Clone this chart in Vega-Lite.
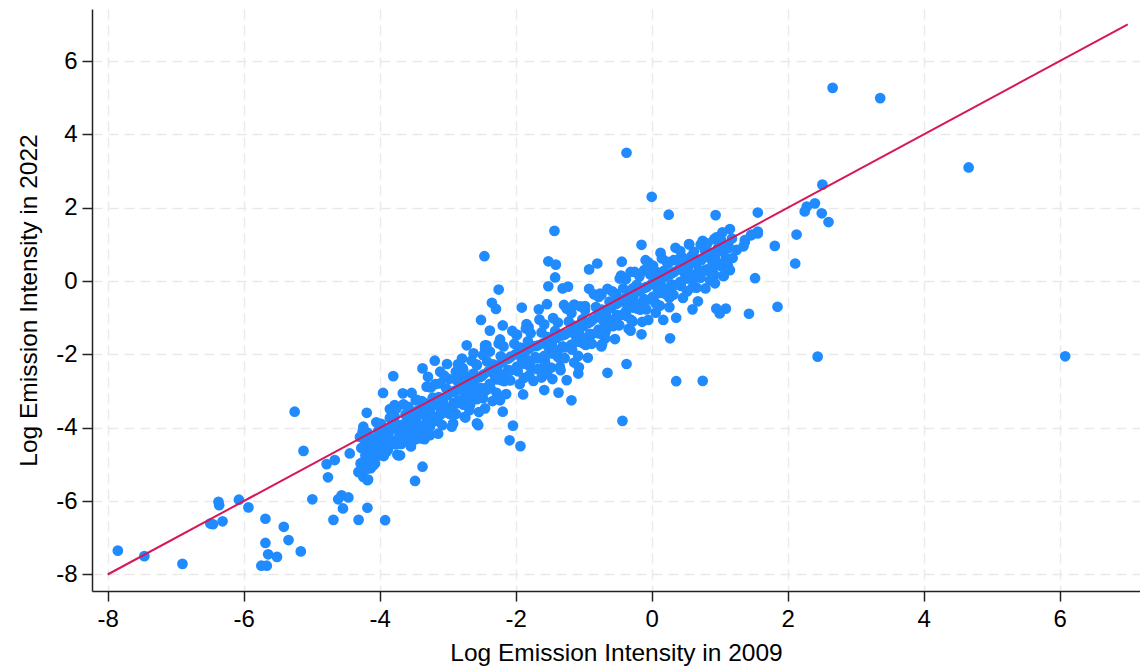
{
  "$schema": "https://vega.github.io/schema/vega-lite/v6.json",
  "width": 1048,
  "height": 582,
  "autosize": {"type": "none"},
  "padding": {"left": 92, "top": 9, "right": 0, "bottom": 80},
  "background": "white",
  "config": {
    "view": {"stroke": null},
    "axis": {
      "grid": true,
      "gridColor": "#e9e9e9",
      "gridDash": [10, 6],
      "gridWidth": 1.5,
      "domainColor": "#222222",
      "domainWidth": 1.5,
      "tickColor": "#222222",
      "tickSize": 10,
      "tickWidth": 1.5,
      "labelFont": "Liberation Sans",
      "labelFontSize": 24,
      "labelColor": "#000000",
      "titleFont": "Liberation Sans",
      "titleFontSize": 24.5,
      "titleFontWeight": "normal",
      "titleColor": "#000000"
    }
  },
  "datasets": {
    "pts": [
      {"x":-7.85,"y":-7.35},{"x":-7.46,"y":-7.50},{"x":-6.90,"y":-7.71},{"x":-6.45,"y":-6.63},{"x":-6.49,"y":-6.61},{"x":-6.37,"y":-6.02},{"x":-6.36,"y":-6.11},{"x":-6.31,"y":-6.55},{"x":-6.07,"y":-5.96},{"x":-5.93,"y":-6.17},{"x":-5.68,"y":-6.48},{"x":-5.68,"y":-7.14},{"x":-5.64,"y":-7.45},{"x":-5.74,"y":-7.76},{"x":-5.66,"y":-7.76},{"x":-5.51,"y":-7.52},{"x":-5.41,"y":-6.70},{"x":-5.34,"y":-7.06},{"x":-5.16,"y":-7.37},{"x":-5.25,"y":-3.56},{"x":-5.12,"y":-4.63},{"x":-4.99,"y":-5.95},{"x":-4.78,"y":-4.99},{"x":-4.66,"y":-4.88},{"x":-4.76,"y":-5.35},{"x":-4.68,"y":-6.51},{"x":-4.61,"y":-5.95},{"x":-4.56,"y":-5.84},{"x":-4.46,"y":-5.90},{"x":-4.54,"y":-6.20},{"x":-4.44,"y":-4.70},{"x":-4.31,"y":-6.51},{"x":-4.31,"y":-5.21},{"x":-4.29,"y":-4.25},{"x":-4.24,"y":-3.97},{"x":-4.19,"y":-3.59},{"x":-4.18,"y":-6.18},{"x":-4.18,"y":-5.43},{"x":-4.18,"y":-4.72},{"x":-4.24,"y":-4.93},{"x":-3.92,"y":-6.52},{"x":-3.95,"y":-3.05},{"x":-3.80,"y":-2.59},{"x":-4.07,"y":-4.97},{"x":-4.13,"y":-5.10},
      {"x":-2.72,"y":-1.75},{"x":-2.45,"y":-1.75},{"x":-3.19,"y":-2.17},{"x":-3.01,"y":-2.26},{"x":-3.37,"y":-2.38},{"x":-3.11,"y":-2.47},{"x":-3.29,"y":-2.61},{"x":-3.66,"y":-3.06},{"x":-3.53,"y":-3.05},{"x":-3.31,"y":-2.88},{"x":-3.47,"y":-3.25},{"x":-3.78,"y":-3.38},{"x":-3.85,"y":-3.49},{"x":-3.37,"y":-5.06},{"x":-3.48,"y":-5.45},{"x":-4.19,"y":-4.97},{"x":-4.17,"y":-5.11},{"x":-4.31,"y":-5.20},{"x":-4.24,"y":-5.34},{"x":-4.17,"y":-5.41},{"x":-4.09,"y":-5.02},{"x":-4.20,"y":-4.61},{"x":-4.17,"y":-4.75},{"x":-4.01,"y":-4.43},{"x":-3.95,"y":-4.16},{"x":-3.90,"y":-4.29},{"x":-3.70,"y":-4.75},{"x":-3.73,"y":-4.43},{"x":-3.55,"y":-4.43},{"x":-3.40,"y":-4.29},{"x":-3.26,"y":-4.20},{"x":-3.26,"y":-3.97},{"x":-3.43,"y":-4.06},{"x":-3.63,"y":-4.06},{"x":-3.87,"y":-4.06},{"x":-4.00,"y":-4.02},{"x":-3.79,"y":-3.84},{"x":-3.60,"y":-3.70},{"x":-3.48,"y":-3.56},{"x":-3.26,"y":-3.56},{"x":-3.11,"y":-3.65},{"x":-3.04,"y":-3.43},{"x":-2.92,"y":-3.88},{"x":-2.75,"y":-3.70},{"x":-2.57,"y":-3.88},{"x":-2.45,"y":-3.47},{"x":-2.67,"y":-3.38},{"x":-2.84,"y":-3.25},{"x":-3.16,"y":-3.25},{"x":-3.31,"y":-3.34},{"x":-2.99,"y":-3.02},{"x":-2.79,"y":-2.97},{"x":-2.57,"y":-2.97},{"x":-2.43,"y":-2.97},{"x":-3.11,"y":-2.79},{"x":-2.87,"y":-2.70},{"x":-2.67,"y":-2.61},{"x":-2.77,"y":-2.43},{"x":-2.57,"y":-2.29},{"x":-2.48,"y":-2.02},{"x":-2.79,"y":-2.11},{"x":-2.62,"y":-1.97},{"x":-2.88,"y":-2.47},{"x":-3.75,"y":-3.47},{"x":-2.55,"y":-3.93},{"x":-4.19,"y":-4.88},{"x":-4.07,"y":-4.70},{"x":-4.00,"y":-4.75},{"x":-3.90,"y":-4.65},{"x":-3.73,"y":-4.75},{"x":-4.04,"y":-4.43},{"x":-3.95,"y":-4.34},{"x":-3.85,"y":-4.43},
      {"x":-0.43,"y":-3.81},{"x":-0.37,"y":-2.26},{"x":-0.65,"y":-2.50},{"x":-0.73,"y":-1.72},{"x":-1.18,"y":-3.25},{"x":-1.37,"y":-3.04},{"x":-1.58,"y":-2.97},{"x":-1.25,"y":-2.70},{"x":-1.46,"y":-2.67},{"x":-1.62,"y":-2.63},{"x":-1.08,"y":-2.52},{"x":-1.07,"y":-2.35},{"x":-1.35,"y":-2.34},{"x":-1.59,"y":-2.35},{"x":-1.80,"y":-2.57},{"x":-1.89,"y":-3.09},{"x":-2.04,"y":-3.94},{"x":-2.09,"y":-4.34},{"x":-1.93,"y":-4.50},{"x":-2.19,"y":-3.56},{"x":-2.23,"y":-3.25},{"x":-2.43,"y":-1.75},{"x":-0.30,"y":-1.06},{"x":-0.37,"y":-0.61},{"x":-0.49,"y":-0.47},{"x":0.36,"y":-2.73},{"x":0.75,"y":-2.72},{"x":-2.23,"y":-1.59},{"x":-0.68,"y":-1.38},{"x":0.27,"y":-1.56},
      {"x":-0.37,"y":3.50},{"x":0.00,"y":2.30},{"x":0.25,"y":1.81},{"x":0.94,"y":1.80},{"x":-1.43,"y":1.37},{"x":-2.46,"y":0.68},{"x":-0.15,"y":0.99},{"x":0.13,"y":0.77},{"x":-0.44,"y":0.53},{"x":-0.80,"y":0.48},{"x":-0.92,"y":0.32},{"x":-1.52,"y":0.54},{"x":-1.41,"y":0.45},{"x":-1.42,"y":0.10},{"x":-1.52,"y":-0.14},{"x":-1.31,"y":-0.20},{"x":-1.23,"y":-0.15},{"x":-0.92,"y":-0.21},{"x":-2.25,"y":-0.23},{"x":-2.35,"y":-0.59},{"x":-2.29,"y":-0.76},{"x":-2.51,"y":-1.06},{"x":-2.38,"y":-1.35},{"x":-2.19,"y":-1.21},{"x":-1.91,"y":-0.72},{"x":-1.66,"y":-0.77},{"x":-1.54,"y":-0.63},{"x":-1.29,"y":-0.65},{"x":-1.14,"y":-0.64},{"x":-0.98,"y":-0.68},{"x":-0.76,"y":-0.34},{"x":-0.74,"y":-0.37},{"x":-0.53,"y":-0.35},{"x":-0.47,"y":0.07},{"x":-0.31,"y":0.25},{"x":-0.28,"y":-0.20},{"x":-0.09,"y":0.57},{"x":-0.11,"y":0.30},{"x":0.07,"y":0.25},{"x":0.24,"y":0.48},{"x":0.32,"y":0.57},{"x":0.44,"y":0.66},{"x":0.55,"y":1.00},{"x":0.72,"y":1.00},{"x":0.92,"y":1.15},{"x":1.04,"y":1.33},{"x":1.13,"y":0.95},{"x":1.25,"y":0.85},{"x":1.37,"y":1.07},{"x":1.47,"y":1.27},{"x":1.56,"y":1.30},{"x":0.93,"y":-0.06},{"x":1.05,"y":0.14},{"x":1.15,"y":0.30},{"x":1.10,"y":0.57},{"x":0.79,"y":-0.20},{"x":0.60,"y":-0.17},{"x":0.68,"y":-0.55},{"x":0.60,"y":-0.77},{"x":0.95,"y":-0.75},{"x":1.00,"y":-0.88},{"x":1.09,"y":-0.75},{"x":0.36,"y":-1.00},{"x":0.26,"y":-0.45},{"x":0.17,"y":-1.06},{"x":0.06,"y":-0.61},{"x":-0.05,"y":-1.06},{"x":-0.15,"y":-1.45},{"x":-0.31,"y":-1.35},{"x":-0.68,"y":-1.34},{"x":-0.48,"y":-1.20},{"x":-1.81,"y":-1.25},{"x":-1.99,"y":-1.47},{"x":-1.84,"y":-1.17},
      {"x":2.66,"y":5.27},{"x":3.36,"y":4.99},{"x":4.66,"y":3.10},{"x":2.51,"y":2.63},{"x":2.40,"y":2.12},{"x":2.28,"y":2.03},{"x":2.25,"y":1.90},{"x":2.50,"y":1.85},{"x":2.60,"y":1.61},{"x":2.13,"y":1.27},{"x":1.56,"y":1.87},{"x":1.81,"y":0.96},{"x":2.11,"y":0.48},{"x":1.56,"y":1.35},{"x":1.46,"y":1.25},{"x":1.37,"y":1.12},{"x":1.35,"y":0.95},{"x":1.52,"y":0.08},{"x":1.43,"y":-0.89},{"x":1.85,"y":-0.70},{"x":2.44,"y":-2.06},{"x":6.08,"y":-2.05},
      {"x":-4.25,"y":-4.10},{"x":-4.22,"y":-4.32},{"x":-4.27,"y":-4.55},{"x":-4.21,"y":-4.75},{"x":-4.28,"y":-4.97},
      {"x":-4.18,"y":-4.13},{"x":-4.13,"y":-4.35},{"x":-4.11,"y":-4.55},{"x":-4.17,"y":-4.74},{"x":-4.14,"y":-4.97},
      {"x":-4.05,"y":-3.85},{"x":-4.02,"y":-4.08},{"x":-4.07,"y":-4.31},{"x":-4.01,"y":-4.53},{"x":-4.08,"y":-4.73},
      {"x":-3.98,"y":-3.89},{"x":-3.93,"y":-4.12},{"x":-3.91,"y":-4.31},{"x":-3.97,"y":-4.54},{"x":-3.94,"y":-4.77},
      {"x":-3.85,"y":-3.73},{"x":-3.82,"y":-3.95},{"x":-3.87,"y":-4.18},{"x":-3.81,"y":-4.38},{"x":-3.88,"y":-4.60},
      {"x":-3.78,"y":-3.69},{"x":-3.73,"y":-3.97},{"x":-3.71,"y":-4.21},{"x":-3.77,"y":-4.45},{"x":-3.74,"y":-4.73},
      {"x":-3.65,"y":-3.36},{"x":-3.62,"y":-3.64},{"x":-3.67,"y":-3.92},{"x":-3.61,"y":-4.20},{"x":-3.68,"y":-4.44},
      {"x":-3.58,"y":-3.43},{"x":-3.53,"y":-3.71},{"x":-3.51,"y":-3.95},{"x":-3.57,"y":-4.23},{"x":-3.54,"y":-4.51},
      {"x":-3.45,"y":-3.24},{"x":-3.42,"y":-3.52},{"x":-3.47,"y":-3.80},{"x":-3.41,"y":-4.04},{"x":-3.48,"y":-4.32},
      {"x":-3.38,"y":-3.27},{"x":-3.33,"y":-3.55},{"x":-3.31,"y":-3.79},{"x":-3.37,"y":-4.03},{"x":-3.34,"y":-4.31},
      {"x":-3.25,"y":-2.90},{"x":-3.22,"y":-3.18},{"x":-3.27,"y":-3.46},{"x":-3.21,"y":-3.74},{"x":-3.28,"y":-3.98},
      {"x":-3.18,"y":-2.81},{"x":-3.13,"y":-3.16},{"x":-3.11,"y":-3.46},{"x":-3.17,"y":-3.81},{"x":-3.14,"y":-4.16},
      {"x":-3.05,"y":-2.58},{"x":-3.02,"y":-2.93},{"x":-3.07,"y":-3.28},{"x":-3.01,"y":-3.58},{"x":-3.08,"y":-3.93},
      {"x":-2.98,"y":-2.67},{"x":-2.93,"y":-3.02},{"x":-2.91,"y":-3.32},{"x":-2.97,"y":-3.62},{"x":-2.94,"y":-3.97},
      {"x":-2.85,"y":-2.27},{"x":-2.82,"y":-2.62},{"x":-2.87,"y":-2.97},{"x":-2.81,"y":-3.32},{"x":-2.88,"y":-3.62},
      {"x":-2.78,"y":-2.37},{"x":-2.73,"y":-2.72},{"x":-2.71,"y":-3.02},{"x":-2.77,"y":-3.37},{"x":-2.74,"y":-3.72},
      {"x":-2.65,"y":-2.17},{"x":-2.62,"y":-2.52},{"x":-2.67,"y":-2.87},{"x":-2.61,"y":-3.17},{"x":-2.68,"y":-3.52},
      {"x":-2.58,"y":-2.27},{"x":-2.53,"y":-2.62},{"x":-2.51,"y":-2.92},{"x":-2.57,"y":-3.22},{"x":-2.54,"y":-3.57},
      {"x":-2.45,"y":-1.84},{"x":-2.42,"y":-2.19},{"x":-2.47,"y":-2.54},{"x":-2.41,"y":-2.89},{"x":-2.48,"y":-3.19},
      {"x":-2.38,"y":-1.92},{"x":-2.33,"y":-2.27},{"x":-2.31,"y":-2.57},{"x":-2.37,"y":-2.92},{"x":-2.34,"y":-3.27},
      {"x":-2.25,"y":-1.70},{"x":-2.22,"y":-2.05},{"x":-2.27,"y":-2.40},{"x":-2.21,"y":-2.70},{"x":-2.28,"y":-3.05},
      {"x":-2.18,"y":-1.78},{"x":-2.13,"y":-2.13},{"x":-2.11,"y":-2.43},{"x":-2.17,"y":-2.73},{"x":-2.14,"y":-3.08},
      {"x":-2.05,"y":-1.36},{"x":-2.02,"y":-1.71},{"x":-2.07,"y":-2.06},{"x":-2.01,"y":-2.41},{"x":-2.08,"y":-2.71},
      {"x":-1.98,"y":-1.46},{"x":-1.93,"y":-1.81},{"x":-1.91,"y":-2.11},{"x":-1.97,"y":-2.46},{"x":-1.94,"y":-2.81},
      {"x":-1.85,"y":-1.29},{"x":-1.82,"y":-1.64},{"x":-1.87,"y":-1.99},{"x":-1.81,"y":-2.29},{"x":-1.88,"y":-2.64},
      {"x":-1.78,"y":-1.42},{"x":-1.73,"y":-1.77},{"x":-1.71,"y":-2.07},{"x":-1.77,"y":-2.37},{"x":-1.74,"y":-2.72},
      {"x":-1.65,"y":-1.05},{"x":-1.62,"y":-1.40},{"x":-1.67,"y":-1.75},{"x":-1.61,"y":-2.10},{"x":-1.68,"y":-2.40},
      {"x":-1.58,"y":-1.18},{"x":-1.53,"y":-1.53},{"x":-1.51,"y":-1.83},{"x":-1.57,"y":-2.18},{"x":-1.54,"y":-2.53},
      {"x":-1.45,"y":-1.01},{"x":-1.42,"y":-1.36},{"x":-1.47,"y":-1.71},{"x":-1.41,"y":-2.01},{"x":-1.48,"y":-2.36},
      {"x":-1.38,"y":-1.13},{"x":-1.33,"y":-1.48},{"x":-1.31,"y":-1.78},{"x":-1.37,"y":-2.08},{"x":-1.34,"y":-2.43},
      {"x":-1.25,"y":-0.75},{"x":-1.22,"y":-1.10},{"x":-1.27,"y":-1.45},{"x":-1.21,"y":-1.80},{"x":-1.28,"y":-2.10},
      {"x":-1.18,"y":-0.87},{"x":-1.13,"y":-1.22},{"x":-1.11,"y":-1.52},{"x":-1.17,"y":-1.87},{"x":-1.14,"y":-2.22},
      {"x":-1.05,"y":-0.69},{"x":-1.02,"y":-1.04},{"x":-1.07,"y":-1.39},{"x":-1.01,"y":-1.69},{"x":-1.08,"y":-2.04},
      {"x":-0.98,"y":-0.79},{"x":-0.93,"y":-1.14},{"x":-0.91,"y":-1.44},{"x":-0.97,"y":-1.74},{"x":-0.94,"y":-2.09},
      {"x":-0.85,"y":-0.36},{"x":-0.82,"y":-0.71},{"x":-0.87,"y":-1.06},{"x":-0.81,"y":-1.41},{"x":-0.88,"y":-1.71},
      {"x":-0.78,"y":-0.43},{"x":-0.73,"y":-0.78},{"x":-0.71,"y":-1.08},{"x":-0.77,"y":-1.43},{"x":-0.74,"y":-1.78},
      {"x":-0.65,"y":-0.21},{"x":-0.62,"y":-0.56},{"x":-0.67,"y":-0.91},{"x":-0.61,"y":-1.21},{"x":-0.68,"y":-1.56},
      {"x":-0.58,"y":-0.28},{"x":-0.53,"y":-0.63},{"x":-0.51,"y":-0.93},{"x":-0.57,"y":-1.23},{"x":-0.54,"y":-1.58},
      {"x":-0.45,"y":0.15},{"x":-0.42,"y":-0.20},{"x":-0.47,"y":-0.55},{"x":-0.41,"y":-0.90},{"x":-0.48,"y":-1.20},
      {"x":-0.38,"y":0.05},{"x":-0.33,"y":-0.30},{"x":-0.31,"y":-0.60},{"x":-0.37,"y":-0.95},{"x":-0.34,"y":-1.30},
      {"x":-0.25,"y":0.25},{"x":-0.22,"y":-0.10},{"x":-0.27,"y":-0.45},{"x":-0.21,"y":-0.75},{"x":-0.28,"y":-1.10},
      {"x":-0.18,"y":0.13},{"x":-0.13,"y":-0.21},{"x":-0.11,"y":-0.49},{"x":-0.17,"y":-0.78},{"x":-0.14,"y":-1.11},
      {"x":-0.05,"y":0.51},{"x":-0.02,"y":0.18},{"x":-0.07,"y":-0.16},{"x":-0.01,"y":-0.49},{"x":-0.08,"y":-0.77},
      {"x":0.02,"y":0.42},{"x":0.07,"y":0.09},{"x":0.09,"y":-0.20},{"x":0.03,"y":-0.53},{"x":0.06,"y":-0.86},
      {"x":0.15,"y":0.62},{"x":0.18,"y":0.28},{"x":0.13,"y":-0.05},{"x":0.19,"y":-0.34},{"x":0.12,"y":-0.67},
      {"x":0.22,"y":0.53},{"x":0.27,"y":0.19},{"x":0.29,"y":-0.09},{"x":0.23,"y":-0.38},{"x":0.26,"y":-0.71},
      {"x":0.35,"y":0.91},{"x":0.38,"y":0.58},{"x":0.33,"y":0.25},{"x":0.39,"y":-0.09},{"x":0.32,"y":-0.37},
      {"x":0.42,"y":0.82},{"x":0.47,"y":0.49},{"x":0.49,"y":0.20},{"x":0.43,"y":-0.13},{"x":0.46,"y":-0.46},
      {"x":0.55,"y":1.01},{"x":0.58,"y":0.67},{"x":0.53,"y":0.34},{"x":0.59,"y":0.06},{"x":0.52,"y":-0.28},
      {"x":0.62,"y":0.80},{"x":0.67,"y":0.53},{"x":0.69,"y":0.31},{"x":0.63,"y":0.08},{"x":0.66,"y":-0.18},
      {"x":0.75,"y":1.10},{"x":0.78,"y":0.84},{"x":0.73,"y":0.58},{"x":0.79,"y":0.31},{"x":0.72,"y":0.09},
      {"x":0.82,"y":1.03},{"x":0.87,"y":0.77},{"x":0.89,"y":0.54},{"x":0.83,"y":0.28},{"x":0.86,"y":0.02},
      {"x":0.95,"y":1.19},{"x":0.98,"y":0.92},{"x":0.93,"y":0.66},{"x":0.99,"y":0.44},{"x":0.92,"y":0.17},
      {"x":1.02,"y":1.12},{"x":1.07,"y":0.85},{"x":1.09,"y":0.63},{"x":1.03,"y":0.40},{"x":1.06,"y":0.14},
      {"x":1.15,"y":1.42},{"x":1.18,"y":1.16},{"x":1.13,"y":0.90},{"x":1.19,"y":0.63},{"x":1.12,"y":0.41},
      {"x":-4.20,"y":-4.38},{"x":-4.18,"y":-4.72},{"x":-4.10,"y":-4.29},{"x":-4.08,"y":-4.63},{"x":-4.00,"y":-4.20},{"x":-3.98,"y":-4.55},
      {"x":-3.90,"y":-4.11},{"x":-3.88,"y":-4.45},{"x":-3.80,"y":-4.02},{"x":-3.78,"y":-4.36},{"x":-3.70,"y":-3.93},{"x":-3.68,"y":-4.27},
      {"x":-3.60,"y":-3.84},{"x":-3.58,"y":-4.18},{"x":-3.50,"y":-3.74},{"x":-3.48,"y":-4.08},{"x":-3.40,"y":-3.62},{"x":-3.38,"y":-3.96},
      {"x":-3.30,"y":-3.49},{"x":-3.28,"y":-3.83},{"x":-3.20,"y":-3.36},{"x":-3.18,"y":-3.70},{"x":-3.10,"y":-3.23},{"x":-3.08,"y":-3.57},
      {"x":-3.00,"y":-3.11},{"x":-2.98,"y":-3.45},{"x":-2.90,"y":-3.00},{"x":-2.88,"y":-3.34},{"x":-2.80,"y":-2.90},{"x":-2.78,"y":-3.24},
      {"x":-2.70,"y":-2.80},{"x":-2.68,"y":-3.14},{"x":-2.60,"y":-2.70},{"x":-2.58,"y":-3.04},{"x":-2.50,"y":-2.59},{"x":-2.48,"y":-2.93},
      {"x":-2.40,"y":-2.46},{"x":-2.38,"y":-2.80},{"x":-2.30,"y":-2.34},{"x":-2.28,"y":-2.68},{"x":-2.20,"y":-2.22},{"x":-2.18,"y":-2.56},
      {"x":-2.10,"y":-2.10},{"x":-2.08,"y":-2.44},{"x":-2.00,"y":-1.99},{"x":-1.98,"y":-2.33},{"x":-1.90,"y":-1.91},{"x":-1.88,"y":-2.25},
      {"x":-1.80,"y":-1.84},{"x":-1.78,"y":-2.18},{"x":-1.70,"y":-1.77},{"x":-1.68,"y":-2.11},{"x":-1.60,"y":-1.70},{"x":-1.58,"y":-2.04},
      {"x":-1.50,"y":-1.63},{"x":-1.48,"y":-1.97},{"x":-1.40,"y":-1.55},{"x":-1.38,"y":-1.89},{"x":-1.30,"y":-1.47},{"x":-1.28,"y":-1.81},
      {"x":-1.20,"y":-1.39},{"x":-1.18,"y":-1.73},{"x":-1.10,"y":-1.31},{"x":-1.08,"y":-1.65},{"x":-1.00,"y":-1.22},{"x":-0.98,"y":-1.56},
      {"x":-0.90,"y":-1.11},{"x":-0.88,"y":-1.45},{"x":-0.80,"y":-0.98},{"x":-0.78,"y":-1.32},{"x":-0.70,"y":-0.85},{"x":-0.68,"y":-1.19},
      {"x":-0.60,"y":-0.73},{"x":-0.58,"y":-1.07},{"x":-0.50,"y":-0.60},{"x":-0.48,"y":-0.94},{"x":-0.40,"y":-0.48},{"x":-0.38,"y":-0.82},
      {"x":-0.30,"y":-0.38},{"x":-0.28,"y":-0.72},{"x":-0.20,"y":-0.28},{"x":-0.18,"y":-0.62},{"x":-0.10,"y":-0.18},{"x":-0.08,"y":-0.52},
      {"x":0.00,"y":-0.08},{"x":0.02,"y":-0.42},{"x":0.10,"y":0.02},{"x":0.12,"y":-0.32},{"x":0.20,"y":0.12},{"x":0.22,"y":-0.22},
      {"x":0.30,"y":0.22},{"x":0.32,"y":-0.12},{"x":0.40,"y":0.32},{"x":0.42,"y":-0.02},{"x":0.50,"y":0.41},{"x":0.52,"y":0.07},
      {"x":0.60,"y":0.50},{"x":0.62,"y":0.16},{"x":0.70,"y":0.58},{"x":0.72,"y":0.24},{"x":0.80,"y":0.66},{"x":0.82,"y":0.32},
      {"x":0.90,"y":0.74},{"x":0.92,"y":0.40},{"x":1.00,"y":0.82},{"x":1.02,"y":0.48},{"x":1.10,"y":0.90},{"x":1.12,"y":0.56}
    ],
    "fitline": [{"x": -8, "y": -8}, {"x": 7, "y": 7}]
  },
  "layer": [
    {
      "data": {"name": "pts"},
      "mark": {"type": "circle", "size": 115, "opacity": 1, "color": "#1f8bff"},
      "encoding": {
        "x": {
          "field": "x", "type": "quantitative",
          "scale": {"domain": [-8.23, 7.18], "nice": false, "zero": false},
          "axis": {"values": [-8, -6, -4, -2, 0, 2, 4, 6], "labelExpr": "'' + datum.value", "title": "Log Emission Intensity in 2009", "labelPadding": 6, "titlePadding": 10}
        },
        "y": {
          "field": "y", "type": "quantitative",
          "scale": {"domain": [-8.45, 7.42], "nice": false, "zero": false},
          "axis": {"values": [-8, -6, -4, -2, 0, 2, 4, 6], "labelExpr": "'' + datum.value", "title": "Log Emission Intensity in 2022", "labelPadding": 5, "titlePadding": 14}
        }
      }
    },
    {
      "data": {"name": "fitline"},
      "mark": {"type": "line", "color": "#d6175a", "strokeWidth": 2},
      "encoding": {
        "x": {"field": "x", "type": "quantitative"},
        "y": {"field": "y", "type": "quantitative"}
      }
    }
  ]
}
